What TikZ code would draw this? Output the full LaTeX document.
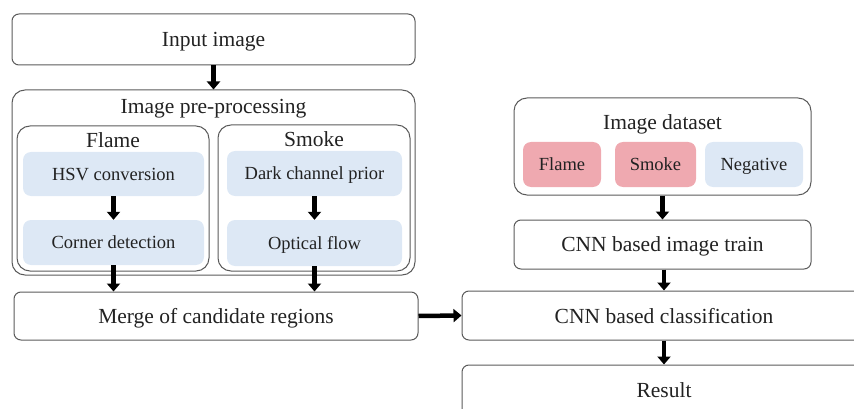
\documentclass[tikz,border=0pt]{standalone}
\usepackage{fontspec}
\setmainfont{Liberation Serif}
\usetikzlibrary{arrows.meta}
\definecolor{boxline}{HTML}{5A5A5A}
\definecolor{lblue}{HTML}{DDE8F5}
\definecolor{lpink}{HTML}{EFA9B0}
\definecolor{txt}{HTML}{222222}
\begin{document}
\begin{tikzpicture}[x=1pt,y=-1pt,
  box/.style={draw=boxline,line width=1pt,rounded corners=7pt,inner sep=0pt,text depth=0pt,text=txt,font=\fontsize{21.5}{23}\selectfont},
  cont/.style={draw=boxline,line width=1pt,rounded corners=13pt,inner sep=0pt},
  sub/.style={fill=lblue,rounded corners=8pt,inner sep=0pt,text depth=0pt,text=txt,font=\fontsize{18.5}{20}\selectfont},
  pinkbox/.style={fill=lpink,rounded corners=8pt,inner sep=0pt,text depth=0pt,text=txt,font=\fontsize{18.5}{20}\selectfont},
  lbl/.style={inner sep=0pt,text depth=0pt,text=txt,font=\fontsize{21.5}{23}\selectfont},
  arr/.style={line width=4.5pt,-{Triangle[length=8pt,width=13pt]}}
]
\useasboundingbox (0,0) rectangle (854,409);
\clip (0,0) rectangle (854,409);
% left column
\node[box,minimum width=403pt,minimum height=51pt] (input) at (213.5,39.5) {Input image};
\node[cont,minimum width=403pt,minimum height=185pt] (pre) at (213.5,182.5) {};
\node[lbl] (prelbl) at (213.5,106) {Image pre-processing};
\node[cont,minimum width=192pt,minimum height=145pt] (flame) at (113,198.5) {};
\node[lbl] (flamelbl) at (113,140.5) {Flame};
\node[cont,minimum width=192pt,minimum height=146pt] (smoke) at (314,198) {};
\node[lbl] (smokelbl) at (314,139.5) {Smoke};
\node[sub,minimum width=181pt,minimum height=44pt] (hsv) at (113.5,174) {HSV conversion};
\node[sub,minimum width=181pt,minimum height=45pt] (corner) at (113.5,242.5) {Corner detection};
\node[sub,minimum width=175pt,minimum height=45pt] (dark) at (314.5,173.5) {Dark channel prior};
\node[sub,minimum width=175pt,minimum height=46pt] (optical) at (314.5,243) {Optical flow};
\node[box,minimum width=404pt,minimum height=48pt] (merge) at (216,316) {Merge of candidate regions};
% right column
\node[cont,minimum width=297pt,minimum height=97pt] (dataset) at (662.5,146.5) {};
\node[lbl] (datalbl) at (662.5,122.5) {Image dataset};
\node[pinkbox,minimum width=78pt,minimum height=45pt] (dflame) at (562,164.5) {Flame};
\node[pinkbox,minimum width=81pt,minimum height=45pt] (dsmoke) at (655.5,164.5) {Smoke};
\node[sub,minimum width=98pt,minimum height=45pt] (dneg) at (754,164.5) {Negative};
\node[box,minimum width=297pt,minimum height=49pt] (train) at (662.5,244.5) {CNN based image train};
\node[box,minimum width=404pt,minimum height=49pt] (cls) at (664,315.5) {CNN based classification};
\node[box,minimum width=404pt,minimum height=50pt] (result) at (664,390) {Result};
% arrows
\draw[arr] (input.south) -- (pre.north);
\draw[arr] (hsv.south) -- (corner.north);
\draw[arr] (dark.south) -- (optical.north);
\draw[arr] (corner.south) -- (corner.south |- merge.north);
\draw[arr] (optical.south) -- (optical.south |- merge.north);
\draw[arr] (merge.east) -- (cls.west);
\draw[arr] (dataset.south) -- (train.north);
\draw[arr] (train.south -| cls.north) -- (cls.north);
\draw[arr] (cls.south) -- (result.north);
\end{tikzpicture}
\end{document}
